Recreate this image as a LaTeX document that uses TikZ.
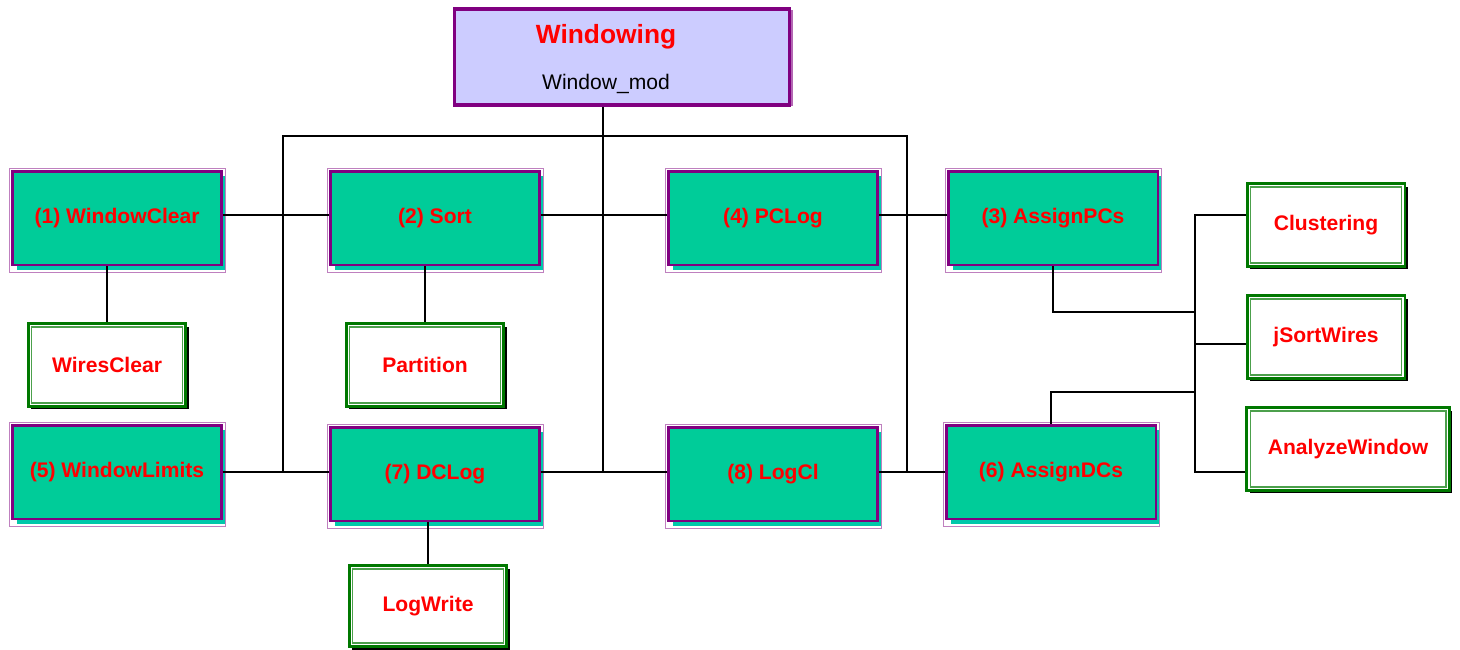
\documentclass[tikz,border=0pt]{standalone}
\usepackage{fontspec}
\setmainfont{Liberation Sans}
\usepackage{xcolor}
\usepackage{tikz}
\usetikzlibrary{shadows,calc,positioning}
\definecolor{modgreen}{RGB}{0,204,153}
\definecolor{modpurple}{RGB}{128,0,128}
\definecolor{modteal}{RGB}{0,200,170}
\definecolor{modlav}{RGB}{204,204,255}
\definecolor{subgreen}{RGB}{0,120,0}
\tikzset{
	>=latex,
	every path/.style={line width=1pt},
}

\begin{document}
\begin{tikzpicture}[x=0.02cm,y=-0.02cm]
    \tikzset{gblock/.style={draw=modpurple, line width=1.7pt, fill=modgreen, text=red,
        font=\bfseries\fontsize{12}{14}\selectfont, minimum width=4.2cm, minimum height=1.88cm,
        general shadow={fill=modteal, shadow xshift=0.09cm, shadow yshift=-0.1cm}},
      wblock/.style={draw=subgreen, line width=1.7pt, fill=white, text=red,
        font=\bfseries\fontsize{12}{14}\selectfont, minimum width=3.16cm, minimum height=1.66cm,
        general shadow={fill=black, shadow xshift=0.06cm, shadow yshift=-0.06cm}},
      inset/.style={draw=subgreen!70, line width=0.6pt},
      outline/.style={draw=modpurple!50, line width=0.5pt},
      topbox/.style={draw=modpurple, line width=1.8pt, fill=modlav,
        minimum width=6.7cm, minimum height=1.92cm,
        general shadow={fill=modpurple!60, shadow xshift=0.08cm, shadow yshift=-0.02cm}},
    }
    \useasboundingbox (0,0) rectangle (1460,649);

    % top module
    \node[topbox] at (622,57) (win) {};
    \node[text=red, font=\bfseries\fontsize{15}{18}\selectfont] at (606,37) (wintitle) {Windowing};
    \node[font=\fontsize{12}{14}\selectfont] at (606,84) (winmod) {Window\_mod};

    % first row
    \node[gblock] at (117,218) (wclear) {(1) WindowClear};
    \node[gblock] at (435,218) (sort) {(2) Sort};
    \node[gblock] at (773,218) (pclog) {(4) PCLog};
    \node[gblock] at (1053,218) (assignpc) {(3) AssignPCs};

    % second row
    \node[gblock] at (117,472) (wlimits) {(5) WindowLimits};
    \node[gblock] at (435,474) (dclog) {(7) DCLog};
    \node[gblock] at (773,474) (logcl) {(8) LogCl};
    \node[gblock] at (1051,472) (assigndc) {(6) AssignDCs};
    \foreach \n in {wclear,sort,pclog,assignpc,wlimits,dclog,logcl,assigndc}
      \draw[outline] ([shift={(-1,-1)}]\n.north west) rectangle ([shift={(2,6)}]\n.south east);

    % helpers
    \node[wblock] at (107,365) (wiresclr) {WiresClear};
    \node[wblock] at (425,365) (partition) {Partition};
    \node[wblock, minimum height=1.62cm] at (428,606) (logwrite) {LogWrite};
    \node[wblock] at (1326,225) (clustering) {Clustering};
    \node[wblock] at (1326,337) (jsort) {jSortWires};
    \node[wblock, minimum width=4.06cm] at (1348,449) (analyze) {AnalyzeWindow};
    \foreach \n in {wiresclr,partition,logwrite,clustering,jsort,analyze}
      \draw[inset] ([shift={(5,5)}]\n.north west) rectangle ([shift={(-5,-5)}]\n.south east);

    \coordinate (busL) at (283,136);
    \coordinate (busR) at (907,136);
    \coordinate (trunkbot) at (603,472);
    \coordinate (rbtop) at (1195,215);
    \coordinate (rbmid) at (1195,344);
    \coordinate (rbbot) at (1195,472);
    \coordinate (pcjoin) at (1195,312);
    \coordinate (dcjoin) at (1195,392);

    \path[draw] (win.south -| trunkbot) -- (trunkbot);
    \path[draw] (busL |- trunkbot) -- (busL) -- (busR) -- (busR |- trunkbot);
    \path[draw] (wclear.east |- rbtop) -- (sort.west |- rbtop);
    \path[draw] (sort.east |- rbtop) -- (pclog.west |- rbtop);
    \path[draw] (pclog.east |- rbtop) -- (assignpc.west |- rbtop);
    \path[draw] (wlimits.east |- trunkbot) -- (dclog.west |- trunkbot);
    \path[draw] (dclog.east |- trunkbot) -- (logcl.west |- trunkbot);
    \path[draw] (logcl.east |- trunkbot) -- (assigndc.west |- trunkbot);
    \path[draw] (wclear.south -| wiresclr) -- (wiresclr.north);
    \path[draw] (sort.south -| partition) -- (partition.north);
    \path[draw] (dclog.south -| logwrite) -- (logwrite.north);
    \path[draw] (assignpc.south) -- (assignpc.south |- pcjoin) -- (pcjoin);
    \path[draw] (assigndc.north) -- (assigndc.north |- dcjoin) -- (dcjoin);
    \path[draw] (clustering.west |- rbtop) -- (rbtop) -- (rbbot) -- (analyze.west |- rbbot);
    \path[draw] (rbmid) -- (jsort.west |- rbmid);
  \end{tikzpicture}
\end{document}
